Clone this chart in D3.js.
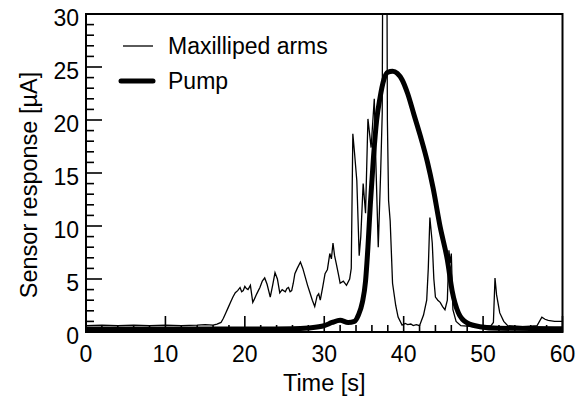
<!DOCTYPE html>
<html>
<head>
<meta charset="utf-8">
<script src="https://cdn.jsdelivr.net/npm/d3@7"></script>
<style>
  body { margin: 0; background: #fff; }
  svg text { font-family: "Liberation Sans", Arial, sans-serif; fill: #000; }
</style>
</head>
<body>
<div id="chart"></div>
<script>
// Sensor response vs time, two traces

const armsTime = [0, 2, 4, 6, 8, 10, 12, 14, 15, 16, 16.5, 17, 17.3, 17.6, 17.9, 18.2, 18.5, 18.8, 19.1, 19.4, 19.6, 19.8, 20.0, 20.2, 20.4, 20.7, 21.0, 21.2, 21.5, 21.7, 21.9, 22.2, 22.5, 22.8, 23.0, 23.2, 23.5, 23.8, 24.1, 24.4, 24.7, 25.1, 25.3, 25.5, 25.7, 25.9, 26.1, 26.3, 26.6, 27.0, 27.3, 27.6, 27.9, 28.2, 28.5, 28.8, 29.1, 29.3, 29.5, 29.8, 30.1, 30.4, 30.7, 30.9, 31.1, 31.3, 31.5, 31.8, 32.0, 32.4, 32.8, 33.2, 33.4, 33.6, 33.8, 34.1, 34.4, 34.6, 34.9, 35.2, 35.5, 35.9, 36.3, 36.5, 36.8, 37.1, 37.3, 37.35, 37.9, 37.95, 38.1, 38.3, 38.6, 39.0, 39.3, 39.8, 40.2, 40.5, 40.9, 41.2, 41.6, 42.0, 42.5, 42.9, 43.1, 43.3, 43.6, 43.8, 44.0, 44.3, 44.6, 44.9, 45.2, 45.5, 45.7, 45.85, 46.0, 46.2, 46.6, 47.2, 48, 49, 50, 51.0, 51.3, 51.5, 51.7, 52.1, 52.6, 53.1, 54, 55, 56, 56.8, 57.4, 57.8, 58.2, 59, 60];
const armsValue = [0.6, 0.65, 0.6, 0.65, 0.6, 0.65, 0.6, 0.65, 0.7, 0.65, 0.75, 0.9, 1.3, 1.8, 2.3, 2.8, 3.3, 3.7, 3.9, 4.2, 3.8, 3.9, 4.3, 4.1, 4.0, 4.4, 2.8, 3.1, 3.6, 3.9, 4.2, 4.8, 5.1, 4.5, 3.9, 3.3, 4.4, 5.6, 5.0, 3.7, 4.0, 3.8, 4.1, 4.2, 3.8, 3.9, 4.6, 5.5, 6.0, 6.6, 6.0, 5.2, 4.4, 3.7, 3.0, 2.4, 3.4, 3.6, 3.0, 4.2, 5.5, 5.9, 7.4, 6.9, 8.4, 7.2, 6.5, 5.4, 4.6, 4.8, 4.4, 5.0, 6.0, 18.7, 17, 14.3, 7.2, 9, 14, 11.2, 20.1, 17.4, 22, 16, 8, 15, 20.6, 32, 32, 20, 12.4, 10.5, 4.6, 2.5, 1.4, 0.65, 0.8, 0.7, 0.75, 0.6, 0.7, 0.6, 1.6, 3.0, 6, 10.8, 8.4, 5, 3.3, 3.0, 2.8, 2.4, 2.1, 3.0, 7.7, 6.5, 7.4, 2.1, 1.0, 0.6, 0.55, 0.5, 0.55, 0.6, 0.9, 5.1, 3.5, 1.8, 1.0, 0.6, 0.55, 0.5, 0.55, 0.6, 1.4, 1.2, 1.1, 1.0, 1.0];

const pumpTime = [0, 10, 20, 26, 28, 30, 31, 32, 33, 33.8, 34.3, 34.8, 35.2, 35.5, 35.8, 36.2, 36.6, 37, 37.5, 38, 38.6, 39.2, 39.8, 40.5, 41.3, 42.1, 43, 43.7, 44.6, 45.5, 46.1, 46.9, 48, 49.6, 52, 60];
const pumpValue = [0.28, 0.28, 0.28, 0.3, 0.38, 0.6, 0.9, 1.1, 0.9, 1.0, 1.6, 2.8, 4.8, 8, 12, 16.5, 20, 22, 23.8, 24.5, 24.6, 24.4, 23.8, 22.5, 20.5, 18.5, 16, 13.6, 9.9, 6.8, 3.9, 1.8, 0.85, 0.5, 0.35, 0.3];

const xTicks = [0, 10, 20, 30, 40, 50, 60];
const yTicks = [0, 5, 10, 15, 20, 25, 30];
const legendNames = ["Maxilliped arms", "Pump"];

const W = 585, H = 399;
const margin = { top: 14, right: 22.5, bottom: 67, left: 86 };
const width = W - margin.left - margin.right;
const height = H - margin.top - margin.bottom;

const svg = d3.select("#chart").append("svg")
  .attr("width", W)
  .attr("height", H);

const g = svg.append("g")
  .attr("transform", `translate(${margin.left},${margin.top})`);

const x = d3.scaleLinear().domain([0, 60]).range([0, width]);
const y = d3.scaleLinear().domain([0, 30]).range([height, 0]);

g.append("clipPath").attr("id", "plot-clip")
  .append("rect").attr("width", width).attr("height", height);

// minor ticks (inside)
g.selectAll(".y-minor")
  .data(d3.range(0, 31, 1))
  .join("line")
  .attr("x1", 0).attr("x2", d => d % 5 === 0 ? 16 : 8)
  .attr("y1", d => y(d)).attr("y2", d => y(d))
  .attr("stroke", "#000").attr("stroke-width", 1.6);

g.selectAll(".x-minor")
  .data(d3.range(0, 61, 2))
  .join("line")
  .attr("x1", d => x(d)).attr("x2", d => x(d))
  .attr("y1", height).attr("y2", d => d % 10 === 0 ? height - 16 : height - 7)
  .attr("stroke", "#000").attr("stroke-width", 1.6);

// traces
const armsData = armsTime.map((t, i) => ({ t, v: armsValue[i] }));
const pumpData = pumpTime.map((t, i) => ({ t, v: pumpValue[i] }));

const armsLine = d3.line().x(d => x(d.t)).y(d => y(d.v));
const pumpLine = d3.line().x(d => x(d.t)).y(d => y(d.v)).curve(d3.curveMonotoneX);

g.append("path")
  .datum(armsData)
  .attr("clip-path", "url(#plot-clip)")
  .attr("fill", "none")
  .attr("stroke", "#000")
  .attr("stroke-width", 1.3)
  .attr("d", armsLine);

g.append("path")
  .datum(pumpData)
  .attr("fill", "none")
  .attr("stroke", "#000")
  .attr("stroke-width", 5)
  .attr("stroke-linejoin", "round")
  .attr("d", pumpLine);

// frame
g.append("rect")
  .attr("width", width).attr("height", height)
  .attr("fill", "none").attr("stroke", "#000").attr("stroke-width", 2);

// tick labels
g.selectAll(".y-label")
  .data(yTicks)
  .join("text")
  .attr("x", -7)
  .attr("y", d => y(d) + 12)
  .attr("text-anchor", "end")
  .style("font-size", "23px")
  .text(d => d);

g.selectAll(".x-label")
  .data(xTicks)
  .join("text")
  .attr("x", d => x(d))
  .attr("y", height + 30)
  .attr("text-anchor", "middle")
  .style("font-size", "23px")
  .text(d => d);

// axis titles
svg.append("text")
  .attr("x", margin.left + width / 2)
  .attr("y", 391)
  .attr("text-anchor", "middle")
  .style("font-size", "23.5px")
  .text("Time [s]");

svg.append("text")
  .attr("transform", `translate(37,185) rotate(-90)`)
  .attr("text-anchor", "middle")
  .style("font-size", "23.5px")
  .text("Sensor response [\u00b5A]");

// legend
const legend = svg.append("g");
legendNames.forEach((name, i) => {
  const ly = 46 + i * 35;
  legend.append("line")
    .attr("x1", i === 0 ? 123 : 121).attr("x2", 153)
    .attr("y1", ly).attr("y2", ly)
    .attr("stroke", "#000")
    .attr("stroke-width", i === 0 ? 1.3 : 5)
    .attr("stroke-linecap", i === 0 ? "butt" : "round");
  legend.append("text")
    .attr("x", 168).attr("y", ly + 8)
    .style("font-size", "23px")
    .text(name);
});
</script>
</body>
</html>
